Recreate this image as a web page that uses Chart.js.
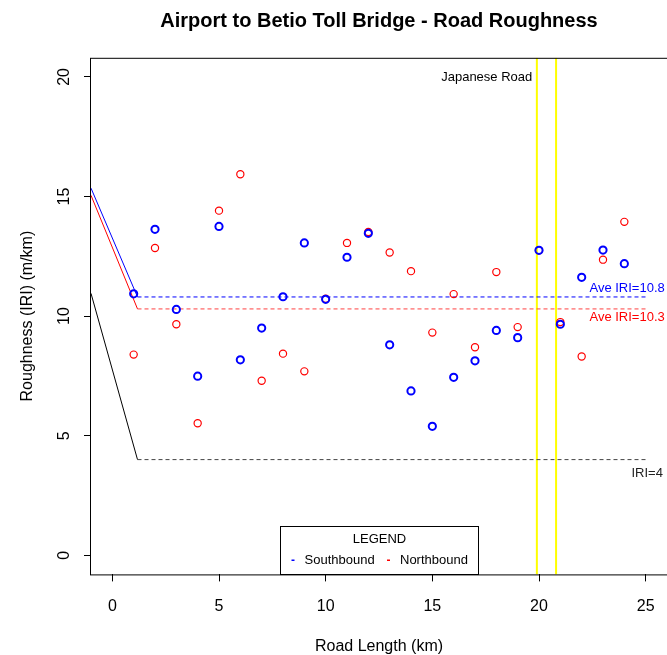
<!DOCTYPE html>
<html>
<head>
<meta charset="utf-8">
<script src="https://cdn.jsdelivr.net/npm/chart.js@4.4.1/dist/chart.umd.min.js"></script>
<style>
  html, body { margin: 0; padding: 0; background: #fff; }
  #wrap { width: 667px; height: 655px; }
</style>
</head>
<body>
<div id="wrap"><canvas id="roughChart" width="667" height="655"></canvas></div>
<script>
// ===== DATA =====
const km = [1, 2, 3, 4, 5, 6, 7, 8, 9, 10, 11, 12, 13, 14, 15, 16, 17, 18, 19, 20, 21, 22, 23, 24];
const southbound = [10.93, 13.63, 10.28, 7.49, 13.75, 8.17, 9.50, 10.81, 13.06, 10.70, 12.46, 13.46,
                    8.80, 6.87, 5.39, 7.44, 8.13, 9.40, 9.10, 12.75, 9.66, 11.62, 12.76, 12.19];
const northbound = [8.39, 12.85, 9.66, 5.52, 14.41, 15.93, 7.30, 8.43, 7.69, 10.73, 13.06, 13.52,
                    12.66, 11.88, 9.31, 10.92, 8.70, 11.84, 9.54, 12.75, 9.75, 8.31, 12.36, 13.94];

// reference lines (solid lead-in, then dashed level)
const refLineKm = [-1, 1.18, 25];
const southAveLine = [15.35, 10.8, 10.8];
const northAveLine = [15.05, 10.3, 10.3];
const iriLine = [10.95, 4, 4];

const japaneseRoadKm = [19.9, 20.8];

const xTicks = [0, 5, 10, 15, 20, 25];
const yTicks = [0, 5, 10, 15, 20];
const xRange = [-1, 26];
const yRange = [-0.8, 20.8];

const notes = [
    { text: "Japanese Road", x: 17.55, y: 20.0, color: "#000" },
    { text: "Ave IRI=10.8", x: 24.13, y: 11.14, color: "#0000ff" },
    { text: "Ave IRI=10.3", x: 24.13, y: 9.93, color: "#ff0000" },
    { text: "IRI=4", x: 25.07, y: 3.44, color: "#222" }
];

const FONT = '"Liberation Sans", Arial, Helvetica, sans-serif';

// ===== HELPERS =====
function pairs(xs, ys) {
    return xs.map((x, i) => ({ x: x, y: ys[i] }));
}

function refLine(label, ys, color, dashColor) {
    return {
        label: label,
        data: pairs(refLineKm, ys),
        showLine: true,
        pointRadius: 0,
        borderWidth: 1,
        borderColor: color,
        segment: {
            borderDash: ctx => ctx.p0DataIndex === 0 ? [] : [4, 3],
            borderColor: ctx => ctx.p0DataIndex === 0 ? color : dashColor
        }
    };
}

// ===== EXTRAS: box, rotated y labels, notes, legend =====
const rExtras = {
    id: "rExtras",
    afterDraw(chart) {
        const ctx = chart.ctx;
        const area = chart.chartArea;
        const xs = chart.scales.x;
        const ys = chart.scales.y;

        ctx.save();
        ctx.strokeStyle = "#000";
        ctx.lineWidth = 1;
        ctx.strokeRect(area.left - 0.5, area.top + 0.5, area.right - area.left + 1, area.bottom - area.top);

        // y tick labels, rotated like R
        ctx.fillStyle = "#000";
        ctx.font = "16px " + FONT;
        ctx.textAlign = "center";
        ctx.textBaseline = "middle";
        ys.ticks.forEach(t => {
            ctx.save();
            ctx.translate(65, ys.getPixelForValue(t.value));
            ctx.rotate(-Math.PI / 2);
            ctx.fillText(String(t.value), 0, 0);
            ctx.restore();
        });

        // notes
        ctx.font = "13px " + FONT;
        notes.forEach(n => {
            ctx.fillStyle = n.color;
            ctx.fillText(n.text, xs.getPixelForValue(n.x), ys.getPixelForValue(n.y));
        });

        // legend box at bottom centre
        const boxW = 198, boxH = 48;
        const bx = Math.round((area.left + area.right) / 2 - boxW / 2) + 0.5;
        const by = Math.round(area.bottom - boxH) + 0.5;
        ctx.fillStyle = "#fff";
        ctx.fillRect(bx, by, boxW, boxH);
        ctx.strokeStyle = "#000";
        ctx.strokeRect(bx, by, boxW, boxH);

        ctx.fillStyle = "#000";
        ctx.textAlign = "center";
        ctx.fillText("LEGEND", bx + boxW / 2, by + 13);

        const items = chart.data.datasets.slice(0, 2);
        const offsets = [12.5, 108];
        items.forEach((d, i) => {
            const ix = bx + offsets[i];
            ctx.fillStyle = d.borderColor;
            ctx.fillRect(ix - 1.5, by + 33, 3, 1.5);
            ctx.fillStyle = "#000";
            ctx.textAlign = "left";
            ctx.fillText(d.label, ix + 11.5, by + 34);
        });
        ctx.restore();
    }
};

// ===== CHART =====
const datasets = [
    {
        label: "Southbound",
        data: pairs(km, southbound),
        borderColor: "#0000ff",
        backgroundColor: "rgba(0,0,0,0)",
        pointRadius: 3.6,
        pointBorderWidth: 2,
        showLine: false
    },
    {
        label: "Northbound",
        data: pairs(km, northbound),
        borderColor: "#ff0000",
        backgroundColor: "rgba(0,0,0,0)",
        pointRadius: 3.6,
        pointBorderWidth: 1.2,
        showLine: false
    },
    refLine("southAve", southAveLine, "#0000ff", "#0000ff"),
    refLine("northAve", northAveLine, "#ff0000", "#ff4040"),
    refLine("iri4", iriLine, "#000", "#444")
];

japaneseRoadKm.forEach(k => {
    datasets.push({
        label: "japaneseRoad",
        data: pairs([k, k], yRange),
        showLine: true,
        pointRadius: 0,
        borderWidth: 2,
        borderColor: "#ffff00"
    });
});

new Chart(document.getElementById("roughChart"), {
    type: "scatter",
    data: { datasets: datasets },
    plugins: [rExtras],
    options: {
        responsive: false,
        animation: false,
        layout: { padding: 0, autoPadding: false },
        plugins: {
            legend: { display: false },
            tooltip: { enabled: false },
            title: {
                display: true,
                fullSize: false,
                text: "Airport to Betio Toll Bridge - Road Roughness",
                color: "#000",
                font: { family: FONT, size: 20, weight: "bold", lineHeight: 1.2 },
                padding: { top: 9, bottom: 24.8 }
            }
        },
        scales: {
            x: {
                type: "linear",
                min: xRange[0],
                max: xRange[1],
                afterBuildTicks: s => { s.ticks = xTicks.map(v => ({ value: v })); },
                afterFit: s => { s.height = 80.6; s.paddingLeft = 0; s.paddingRight = 0; },
                grid: { drawOnChartArea: false, drawTicks: true, tickLength: 7, color: "#000", tickColor: "#000" },
                border: { display: false },
                ticks: { color: "#000", font: { family: FONT, size: 16 }, padding: 16, maxRotation: 0 },
                title: {
                    display: true,
                    text: "Road Length (km)",
                    color: "#000",
                    font: { family: FONT, size: 16 },
                    padding: { top: 0, bottom: -1.5 }
                }
            },
            y: {
                type: "linear",
                min: yRange[0],
                max: yRange[1],
                afterBuildTicks: s => { s.ticks = yTicks.map(v => ({ value: v })); },
                afterFit: s => { s.width = 91; s.paddingTop = 0; s.paddingBottom = 0; },
                grid: { drawOnChartArea: false, drawTicks: true, tickLength: 7, color: "#000", tickColor: "#000" },
                border: { display: false },
                ticks: { display: false },
                title: {
                    display: true,
                    text: "Roughness (IRI) (m/km)",
                    color: "#000",
                    font: { family: FONT, size: 16 },
                    padding: { top: 18, bottom: 0 }
                }
            }
        }
    }
});
</script>
</body>
</html>
